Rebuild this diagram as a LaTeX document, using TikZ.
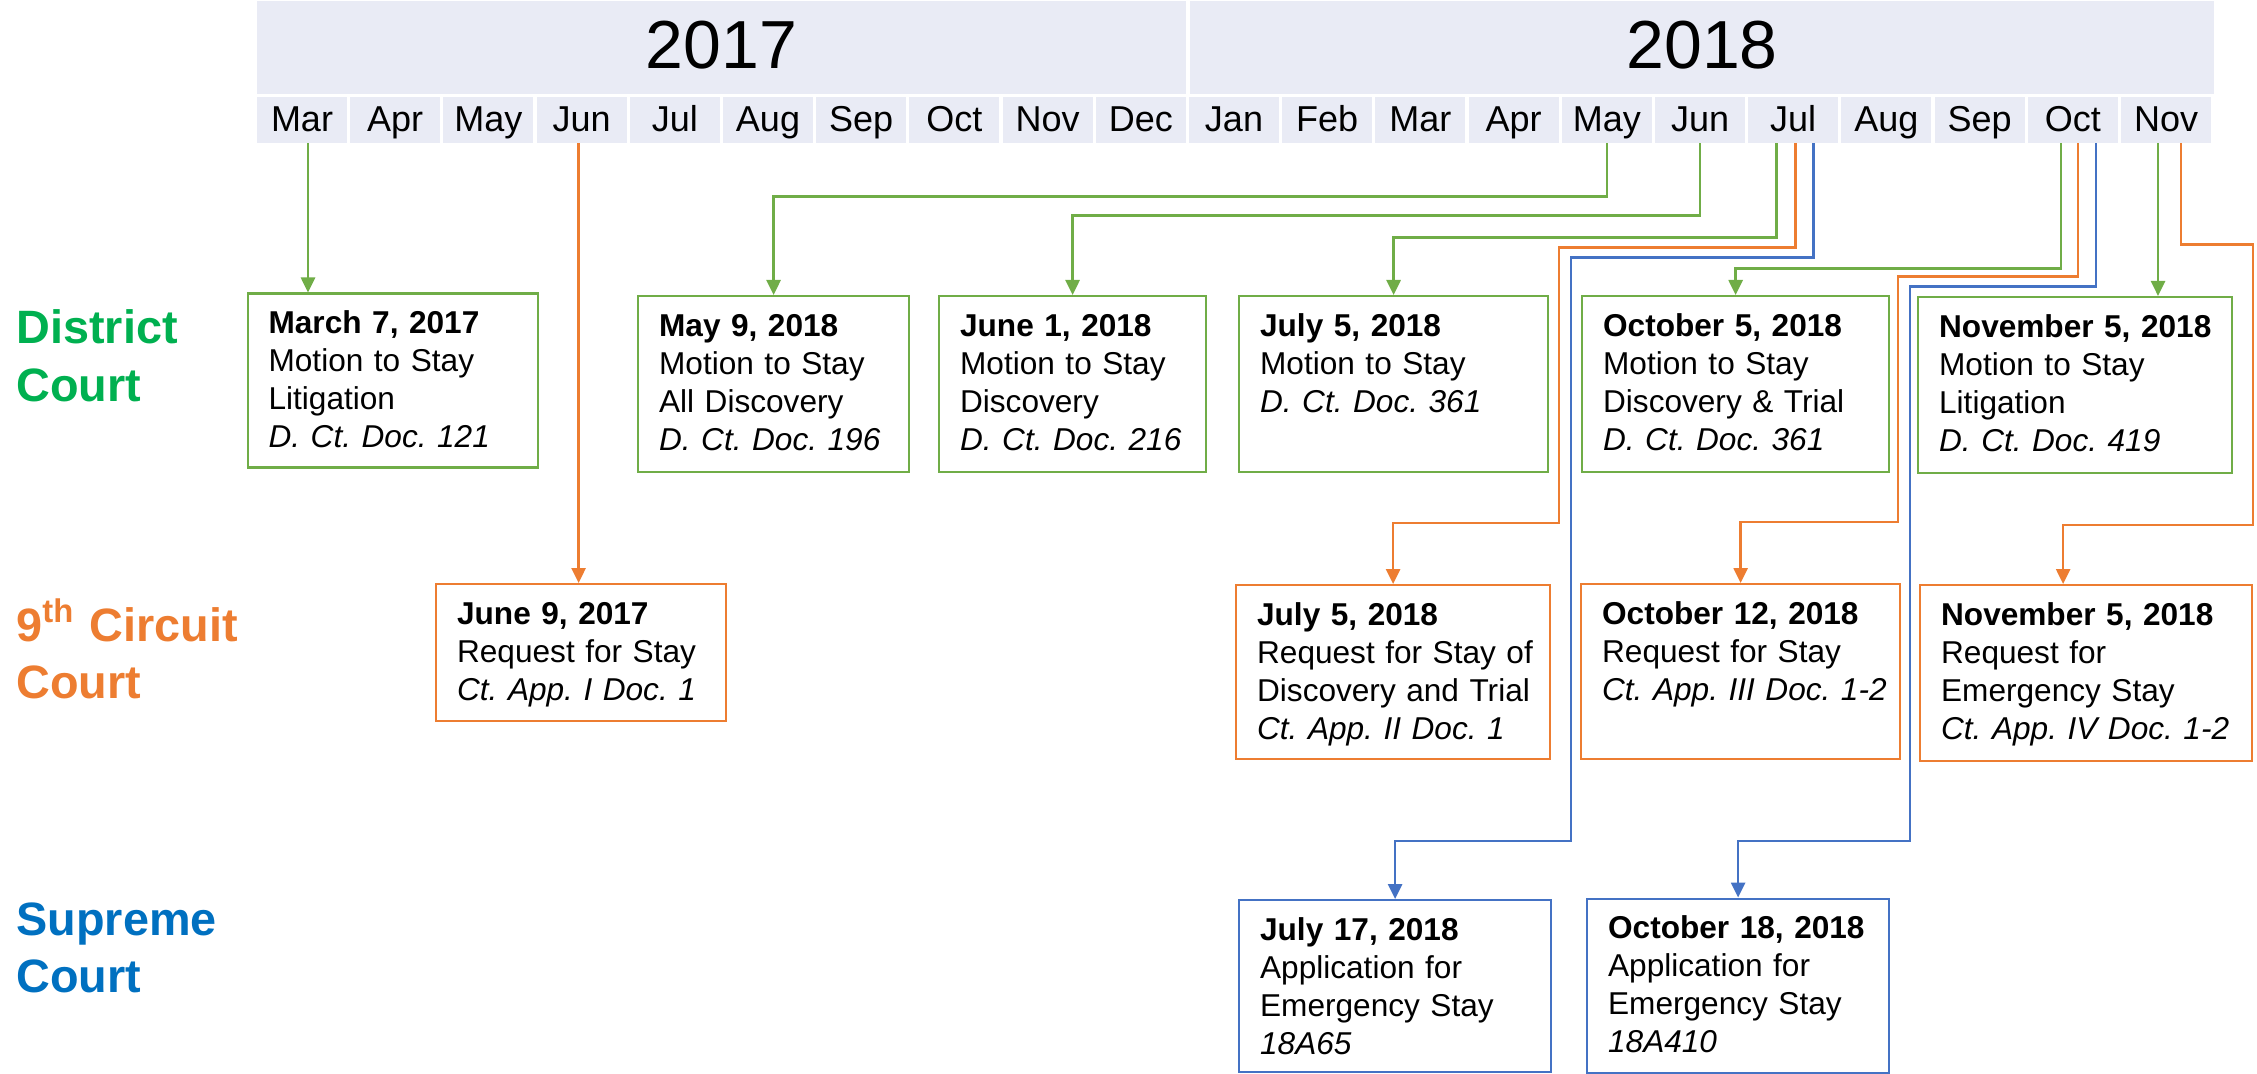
\documentclass[tikz,border=0pt]{standalone}
\usepackage{fontspec}
\setmainfont{Liberation Sans}
\usetikzlibrary{arrows.meta}
\frenchspacing

\definecolor{hdr}{HTML}{E9EBF5}
\definecolor{dctgreen}{HTML}{70AD47}
\definecolor{dcttext}{HTML}{00B050}
\definecolor{apporange}{HTML}{ED7D31}
\definecolor{sctblue}{HTML}{4472C4}
\definecolor{scttext}{HTML}{0070C0}

\begin{document}
\begin{tikzpicture}[x=0.5pt, y=-0.5pt,
    yearband/.style={fill=hdr, minimum width=#1, minimum height=46.5pt, inner sep=0, font=\fontsize{34}{40}\selectfont, text height=25pt, text depth=3.5pt},
    monthcell/.style={fill=hdr, minimum width=45pt, minimum height=23pt, inner sep=0, font=\fontsize{18}{21}\selectfont, text height=14pt, text depth=2pt},
    court/.style={anchor=base west, align=left, text width=130pt, inner sep=0, font=\fontsize{23.4}{28.7}\selectfont\bfseries},
    filing/.style={line width=1.1pt, anchor=north west, align=left, inner sep=0, text height=20pt, text depth=68pt, font=\fontsize{15.8}{19}\selectfont, execute at begin node={\leftskip=10.5pt\relax}},
    dct/.style={filing, draw=dctgreen, text width=#1},
    app/.style={filing, draw=apporange, text width=#1},
    sct/.style={filing, draw=sctblue, text width=#1},
    dctlink/.style={draw=dctgreen, line width=1.3pt, -{Triangle[length=7.5pt, width=7pt]}},
    applink/.style={draw=apporange, line width=1.3pt, -{Triangle[length=7.5pt, width=7pt]}},
    sctlink/.style={draw=sctblue, line width=1.3pt, -{Triangle[length=7.5pt, width=7pt]}}
]
    \useasboundingbox (0,0) rectangle (2257,1074);

    \node[yearband=464.5pt] (y2017) at (721.5,47.5) {2017};
    \node[yearband=512pt] (y2018) at (1702,47.5) {2018};
    \foreach \mname [count=\i] in {Mar,Apr,May,Jun,Jul,Aug,Sep,Oct,Nov,Dec,Jan,Feb,Mar,Apr,May,Jun,Jul,Aug,Sep,Oct,Nov}
        \node[monthcell] (m\i) at ({302+93.2*(\i-1)},120) {\mname};

    \node[court, text=dcttext] (lbldct) at (16,344) {District\\Court};
    \node[court, text=apporange] (lblapp) at (16,641) {9\textsuperscript{th} Circuit\\Court};
    \node[court, text=scttext] (lblsct) at (16,935) {Supreme\\Court};

    \node[dct=145pt, text depth=67pt] (mar7) at (246.5,292.5) {\textbf{March 7, 2017}\\Motion to Stay\\Litigation\\\textit{D. Ct. Doc. 121}};
    \node[dct=135.5pt] (may9) at (637,295) {\textbf{May 9, 2018}\\Motion to Stay\\All Discovery\\\textit{D. Ct. Doc. 196}};
    \node[dct=133.5pt] (jun1) at (938,295) {\textbf{June 1, 2018}\\Motion to Stay\\Discovery\\\textit{D. Ct. Doc. 216}};
    \node[dct=154.5pt] (jul5d) at (1238,295) {\textbf{July 5, 2018}\\Motion to Stay\\\textit{D. Ct. Doc. 361}};
    \node[dct=153.5pt] (oct5) at (1581,295) {\textbf{October 5, 2018}\\Motion to Stay\\Discovery \& Trial\\\textit{D. Ct. Doc. 361}};
    \node[dct=157pt] (nov5d) at (1917,296) {\textbf{November 5, 2018}\\Motion to Stay\\Litigation\\\textit{D. Ct. Doc. 419}};

    \node[app=145pt, text depth=48.5pt] (jun9) at (435,583) {\textbf{June 9, 2017}\\Request for Stay\\\textit{Ct. App. I Doc. 1}};
    \node[app=157pt, text depth=67pt] (jul5c) at (1235,584) {\textbf{July 5, 2018}\\Request for Stay of\\Discovery and Trial\\\textit{Ct. App. II Doc. 1}};
    \node[app=159.5pt, text depth=67.5pt] (oct12) at (1580,583) {\textbf{October 12, 2018}\\Request for Stay\\\textit{Ct. App. III Doc. 1-2}};
    \node[app=166pt] (nov5c) at (1919,584) {\textbf{November 5, 2018}\\Request for\\Emergency Stay\\\textit{Ct. App. IV Doc. 1-2}};

    \node[sct=156pt, text depth=66pt] (jul17) at (1238,899) {\textbf{July 17, 2018}\\Application for\\Emergency Stay\\\textit{18A65}};
    \node[sct=151pt, text depth=67pt] (oct18) at (1586,897.5) {\textbf{October 18, 2018}\\Application for\\Emergency Stay\\\textit{18A410}};

    \draw[dctlink] ([xshift=3pt]m1.south) -- ([xshift=3pt]m1.south |- mar7.north);
    \draw[dctlink] (m15.south) -- ++(0,53) -| (may9.north);
    \draw[dctlink] (m16.south) -- ++(0,72) -| (jun1.north);
    \draw[dctlink] ([xshift=-8.5pt]m17.south) -- ++(0,94) -| (jul5d.north);
    \draw[dctlink] ([xshift=-6pt]m20.south) -- ++(0,125) -| (oct5.north);
    \draw[dctlink] ([xshift=-4pt]m21.south) -- ([xshift=-4pt]m21.south |- nov5d.north);

    \draw[applink] ([xshift=-1.5pt]m4.south) -- ([xshift=-1.5pt]m4.south |- jun9.north);
    \draw[applink] ([xshift=1pt]m17.south) -- ++(0,104) -| (1559,523) -| (jul5c.north);
    \draw[applink] ([xshift=2.5pt]m20.south) -- ++(0,133) -| (1898,522) -| (oct12.north);
    \draw[applink] ([xshift=7.5pt]m21.south) -- ++(0,101) -| (2253,525) -| ([xshift=-11.5pt]nov5c.north);

    \draw[sctlink] ([xshift=10pt]m17.south) -- ++(0,114) -| (1571,841) -| (jul17.north);
    \draw[sctlink] ([xshift=11.5pt]m20.south) -- ++(0,143) -| (1910,841) -| (oct18.north);
\end{tikzpicture}
\end{document}
